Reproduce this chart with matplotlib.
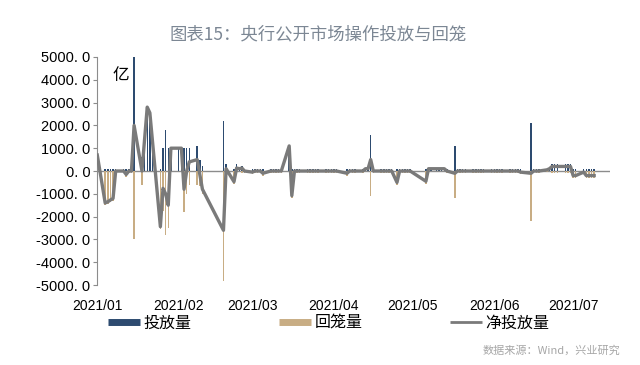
import pandas as pd
import matplotlib
matplotlib.use("Agg")
import matplotlib.pyplot as plt
import matplotlib.dates as mdates
from matplotlib.lines import Line2D

plt.rcParams['font.family'] = ['Noto Sans CJK SC', 'DejaVu Sans']

# ====================================
# DATA (亿元)
# ====================================

jan_days = [1, 4, 5, 6, 7, 8, 11, 12, 13, 14, 15, 18, 19, 20, 21, 22, 25, 26, 27, 28, 29]
jan_inj = [0, 100, 100, 100, 100, 100, 100, 100, 100, 100, 5000, 600, 1400, 2800, 2550, 1300, 100, 1000, 1800, 1000, 1000]
jan_ret = [0, 1500, 1450, 1370, 1300, 100, 100, 250, 100, 100, 3000, 600, 0, 0, 0, 0, 2540, 1760, 2800, 2500, 0]
jan_net = [700, -1400, -1350, -1270, -1200, 0, 0, -150, 0, 0, 2000, 0, 1400, 2800, 2550, 1300, -2440, -760, -1000, -1500, 1000]

feb_days = [1, 2, 3, 4, 5, 8, 9, 10, 18, 19, 22, 23, 24, 25, 26]
feb_inj = [1000, 1000, 1000, 1000, 1000, 1100, 500, 200, 2200, 300, 100, 300, 100, 200, 100]
feb_ret = [0, 0, 1800, 1000, 600, 600, 650, 1000, 4800, 200, 570, 170, 0, 70, 100]
feb_net = [1000, 1000, -800, 0, 400, 500, -150, -800, -2600, 100, -470, 130, 100, 130, 0]

mar_days = [1, 2, 3, 4, 5, 8, 9, 10, 11, 12, 15, 16, 17, 18, 19, 22, 23, 24, 25, 26, 29, 30, 31]
mar_inj = [100, 100, 100, 100, 100, 100, 100, 100, 100, 100, 1100, 100, 100, 100, 100, 100, 100, 100, 100, 100, 100, 100, 100]
mar_ret = [150, 100, 100, 100, 200, 100, 100, 100, 100, 100, 0, 1180, 100, 100, 100, 100, 100, 100, 100, 100, 100, 100, 100]
mar_net = [-50, 0, 0, 0, -100, 0, 0, 0, 0, 0, 1100, -1080, 0, 0, 0, 0, 0, 0, 0, 0, 0, 0, 0]

apr_days = [1, 2, 6, 7, 8, 9, 12, 13, 14, 15, 16, 19, 20, 21, 22, 23, 25, 26, 27, 28, 29, 30]
apr_inj = [100, 100, 100, 100, 100, 100, 100, 100, 100, 1600, 100, 100, 100, 100, 100, 100, 100, 100, 100, 100, 100, 100]
apr_ret = [100, 100, 200, 100, 100, 100, 100, 0, 0, 1100, 100, 100, 100, 100, 100, 100, 600, 100, 100, 100, 100, 100]
apr_net = [0, 0, -100, 0, 0, 0, 0, 100, 100, 500, 0, 0, 0, 0, 0, 0, -500, 0, 0, 0, 0, 0]

may_days = [6, 7, 8, 10, 11, 12, 13, 14, 17, 18, 19, 20, 21, 24, 25, 26, 27, 28, 31]
may_inj = [100, 100, 100, 100, 100, 100, 100, 100, 1100, 100, 100, 100, 100, 100, 100, 100, 100, 100, 100]
may_ret = [550, 0, 0, 0, 0, 0, 0, 100, 1200, 100, 100, 100, 100, 100, 100, 100, 100, 100, 100]
may_net = [-450, 100, 100, 100, 100, 100, 100, 0, -100, 0, 0, 0, 0, 0, 0, 0, 0, 0, 0]

jun_days = [1, 2, 3, 4, 7, 8, 9, 10, 11, 15, 16, 17, 18, 21, 22, 23, 24, 25, 28, 29, 30]
jun_inj = [100, 100, 100, 100, 100, 100, 100, 100, 100, 2100, 100, 100, 100, 100, 100, 300, 300, 300, 300, 300, 300]
jun_ret = [100, 100, 100, 100, 100, 100, 100, 100, 150, 2200, 100, 100, 100, 50, 0, 100, 100, 100, 100, 100, 100]
jun_net = [0, 0, 0, 0, 0, 0, 0, 0, -50, -100, 0, 0, 0, 50, 100, 200, 200, 200, 200, 200, 200]

jul_days = [1, 2, 5, 6, 7, 8, 9]
jul_inj = [100, 100, 100, 100, 100, 100, 100]
jul_ret = [300, 300, 150, 300, 300, 300, 300]
jul_net = [-200, -200, -50, -200, -200, -200, -200]

months = [(1, jan_days), (2, feb_days), (3, mar_days), (4, apr_days),
          (5, may_days), (6, jun_days), (7, jul_days)]

dates = []
for m, days in months:
    for d in days:
        dates.append(pd.Timestamp(2021, m, d))

inject = jan_inj + feb_inj + mar_inj + apr_inj + may_inj + jun_inj + jul_inj
retire = jan_ret + feb_ret + mar_ret + apr_ret + may_ret + jun_ret + jul_ret
net = jan_net + feb_net + mar_net + apr_net + may_net + jun_net + jul_net

df = pd.DataFrame({"date": dates, "inject": inject, "retire": retire, "net": net})

y_ticks = [5000, 4000, 3000, 2000, 1000, 0, -1000, -2000, -3000, -4000, -5000]

# ====================================
# PLOT
# ====================================

blue = "#2d4b70"
tan = "#c8ad84"
gray = "#7a7a7a"

fig = plt.figure(figsize=(6.4, 3.65), dpi=100)
ax = fig.add_axes([0.152, 0.219, 0.801, 0.625])

ax.bar(df["date"], df["inject"], width=0.55, color=blue, zorder=2)
ax.bar(df["date"], [-v for v in df["retire"]], width=0.55, color=tan, zorder=2)
ax.axhline(0, color="#8c8c8c", lw=1.0, zorder=1)
ax.plot(df["date"], df["net"], color=gray, lw=2.4, zorder=3)

ax.set_ylim(-5000, 5000)
ax.set_xlim(pd.Timestamp(2021, 1, 1), pd.Timestamp(2021, 7, 15))
ax.set_yticks(y_ticks)
ax.set_yticklabels([f"{v:.1f}".replace(".", ". ") for v in y_ticks],
                   family=["Liberation Sans", "DejaVu Sans"], fontsize=10.5)

ax.xaxis.set_major_locator(mdates.MonthLocator())
ax.xaxis.set_major_formatter(mdates.DateFormatter("%Y/%m"))
for lab in ax.get_xticklabels():
    lab.set_family(["Liberation Sans", "DejaVu Sans"])
    lab.set_fontsize(10)
ax.tick_params(axis="x", length=0, pad=10)
ax.tick_params(axis="y", length=3, color="#8c8c8c", pad=2)

for s in ["top", "right", "bottom"]:
    ax.spines[s].set_visible(False)
ax.spines["left"].set_color("#8c8c8c")

ax.text(0.03, 0.92, "亿", transform=ax.transAxes, fontsize=12, va="center")

fig.text(0.497, 0.905, "图表15：央行公开市场操作投放与回笼", ha="center", va="center",
         fontsize=12.5, color="#7c8794")
fig.text(0.97, 0.04, "数据来源：Wind，兴业研究", ha="right", va="center",
         fontsize=8, color="#a6a6a6")

handles = [Line2D([], [], color=blue, lw=5, solid_capstyle="butt"),
           Line2D([], [], color=tan, lw=5, solid_capstyle="butt"),
           Line2D([], [], color=gray, lw=2, solid_capstyle="butt")]
labels = ["投放量", "回笼量", "净投放量"]
fig.legend(handles, labels, loc="center left", bbox_to_anchor=(0.169, 1 - 323 / 365),
           ncol=3, frameon=False, fontsize=11.5, handlelength=2.0,
           handletextpad=0.2, columnspacing=5.5, borderaxespad=0, borderpad=0)

fig.savefig("out.png", dpi=100)
